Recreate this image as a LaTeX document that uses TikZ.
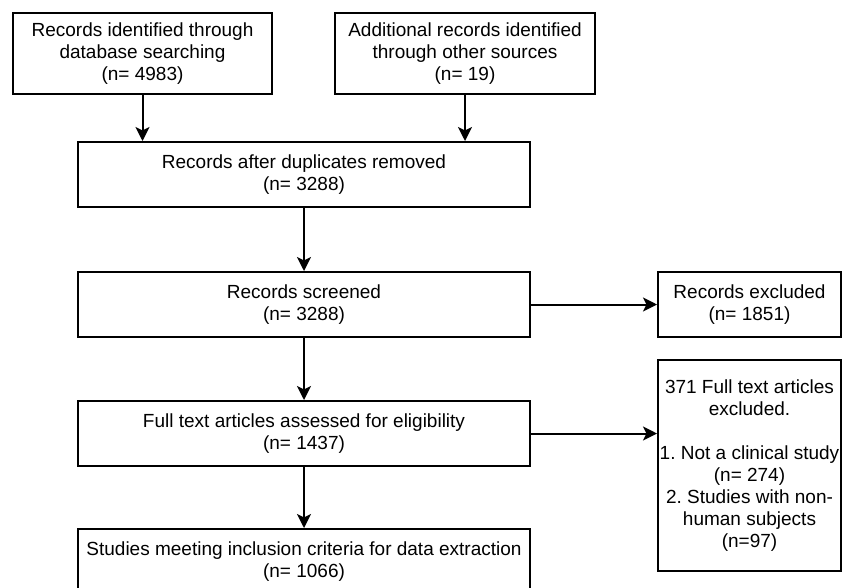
\documentclass[tikz,border=0pt]{standalone}
\usepackage{fontspec}
\setmainfont{Liberation Sans}
\usetikzlibrary{arrows.meta}
\begin{document}
\begin{tikzpicture}[x=1pt,y=-1pt,
  box/.style={draw=black,line width=2pt,rectangle,inner sep=0pt,align=center,
    font=\fontsize{19}{22}\selectfont\frenchspacing},
  conn/.style={line width=2pt,-{Stealth[length=14pt,width=14pt,inset=3.5pt]}}]
\useasboundingbox (0,0) rectangle (842,587);
\clip (0,0) rectangle (842,587);
\node[box,minimum width=259pt,minimum height=81pt] (b1) at (142.5,53.5)
  {Records identified through\\database searching\\(n= 4983)};
\node[box,minimum width=260pt,minimum height=81pt] (b2) at (465,53.5)
  {Additional records identified\\through other sources\\(n= 19)};
\node[box,minimum width=452pt,minimum height=65pt] (b3) at (304,174.5)
  {Records after duplicates removed\\(n= 3288)};
\node[box,minimum width=452pt,minimum height=65pt] (b4) at (304,304.5)
  {Records screened\\(n= 3288)};
\node[box,minimum width=183pt,minimum height=65pt] (b5) at (749.5,304.5)
  {Records excluded\\(n= 1851)};
\node[box,minimum width=452pt,minimum height=65pt] (b7) at (304,433.5)
  {Full text articles assessed for eligibility\\(n= 1437)};
\node[box,minimum width=183pt,minimum height=211pt] (b6) at (749.5,465.5)
  {371 Full text articles\\excluded.\\[22pt]1. Not a clinical study\\(n= 274)\\2. Studies with non-\\human subjects\\(n=97)};
\node[box,minimum width=452pt,minimum height=65pt] (b8) at (304,561.5)
  {Studies meeting inclusion criteria for data extraction\\(n= 1066)};
\draw[conn] (b1.south) -- (b1.south |- b3.north);
\draw[conn] (b2.south) -- (b2.south |- b3.north);
\draw[conn] (b3.south) -- (b4.north);
\draw[conn] (b4.east) -- (b5.west);
\draw[conn] (b4.south) -- (b7.north);
\draw[conn] (b7.east) -- (b7.east -| b6.west);
\draw[conn] (b7.south) -- (b8.north);
\end{tikzpicture}
\end{document}
